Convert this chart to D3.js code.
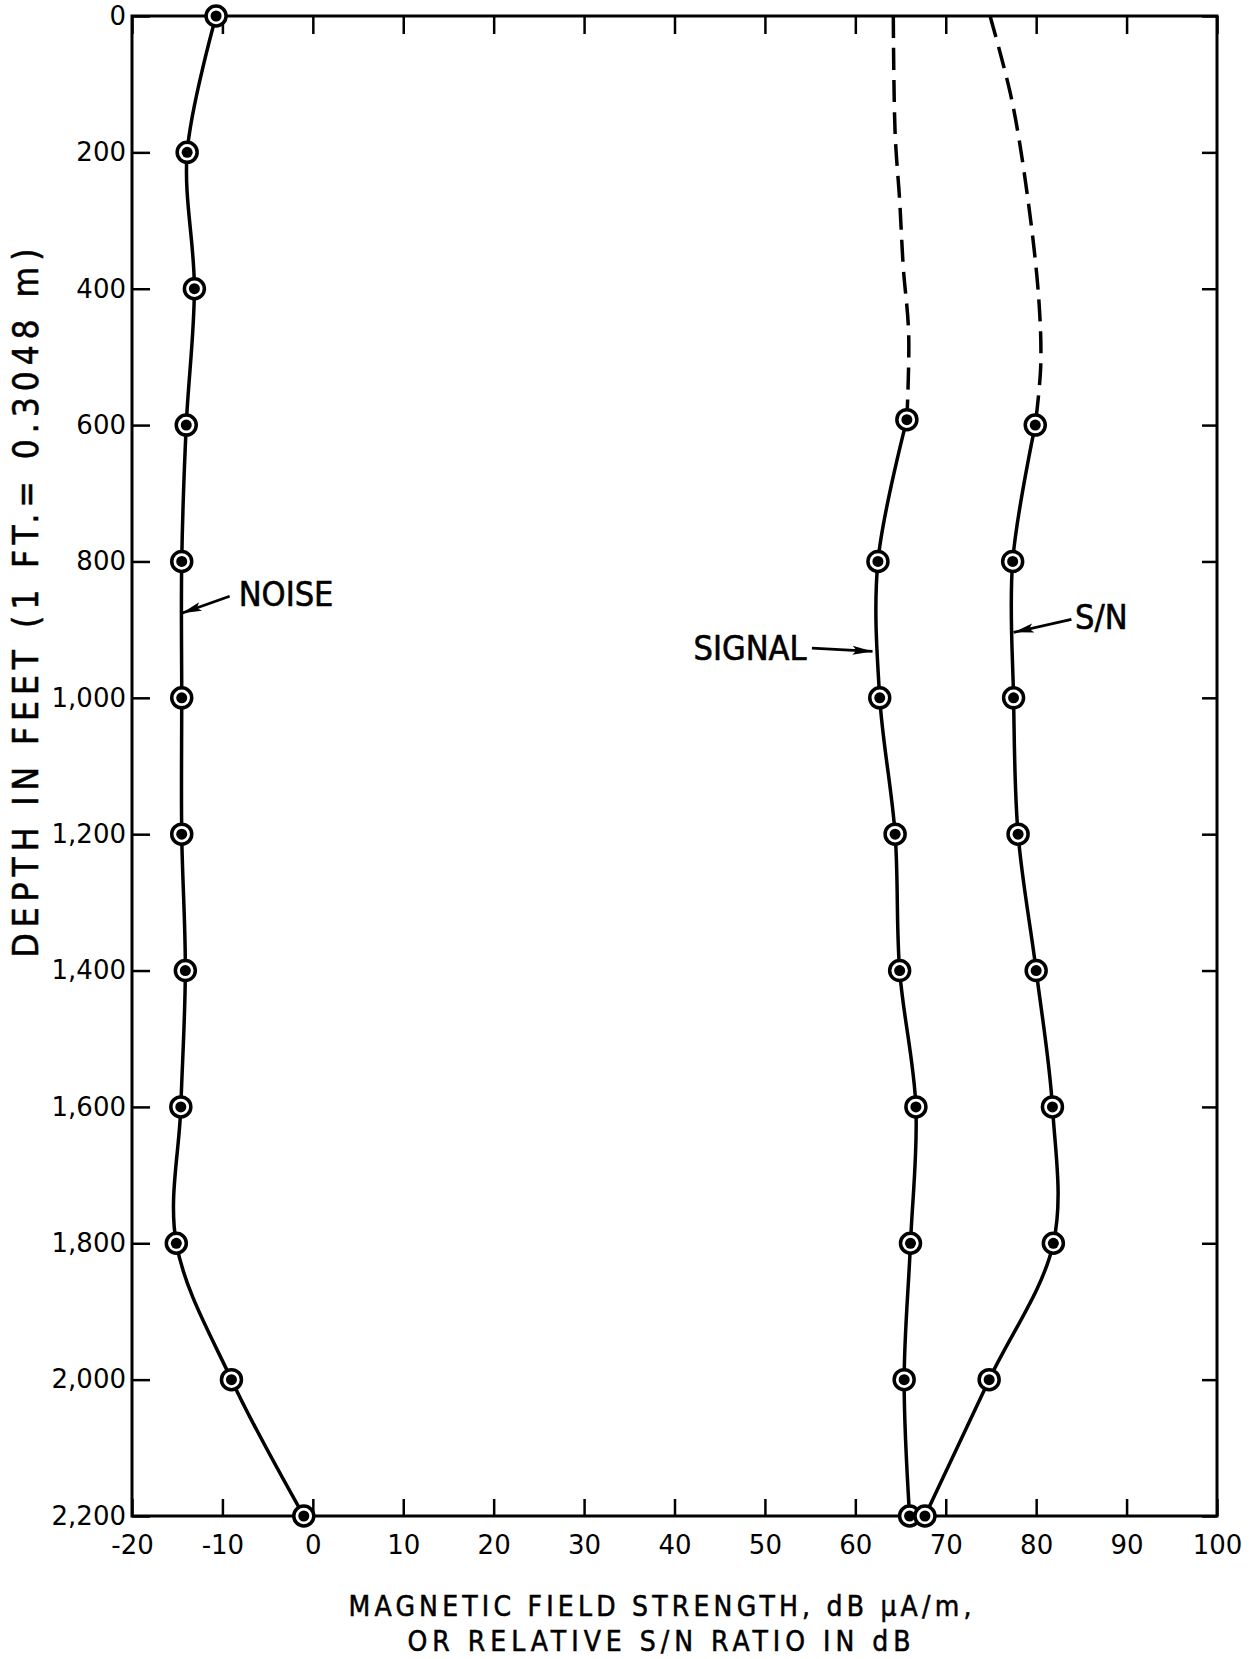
<!DOCTYPE html>
<html>
<head>
<meta charset="utf-8">
<script src="https://cdn.jsdelivr.net/npm/d3@7"></script>
<style>
    body { margin: 0; background: #fff; }
    svg text { fill: #000; }
    .tick-label { font-family: "DejaVu Sans", sans-serif; font-size: 26px; }
    .title { font-family: "DejaVu Sans Condensed", "DejaVu Sans", sans-serif; }
</style>
</head>
<body>
<div id="chart"></div>
<script>
// readings taken off the depth profile (depth in feet, values in dB)
let noiseDepth = [0, 200, 400, 600, 800, 1000, 1200, 1400, 1600, 1800, 2000, 2200];
let noiseValues = [-10.7, -13.9, -13.1, -14.0, -14.5, -14.5, -14.5, -14.1, -14.6, -15.1, -9.0, -1.0];

let signalDepth = [592, 800, 1000, 1200, 1400, 1600, 1800, 2000, 2200];
let signalValues = [65.7, 62.5, 62.7, 64.4, 64.9, 66.7, 66.1, 65.4, 66.0];
// extrapolated part above 600 ft (dashed, no readings)
let signalDashDepth = [0, 172, 270, 368, 466, 592];
let signalDashValues = [64.2, 64.4, 64.9, 65.3, 65.9, 65.7];

let snDepth = [600, 800, 1000, 1200, 1400, 1600, 1800, 2000, 2200];
let snValues = [79.9, 77.4, 77.5, 78.0, 80.0, 81.8, 81.9, 74.8, 67.7];
let snDashDepth = [0, 123, 270, 417, 514, 600];
let snDashValues = [74.9, 77.3, 79.1, 80.3, 80.5, 79.9];

let xTicks = [-20, -10, 0, 10, 20, 30, 40, 50, 60, 70, 80, 90, 100];
let xTickLabels = ["-20", "-10", "0", "10", "20", "30", "40", "50", "60", "70", "80", "90", "100"];
let yTicks = [0, 200, 400, 600, 800, 1000, 1200, 1400, 1600, 1800, 2000, 2200];
let yTickLabels = ["0", "200", "400", "600", "800", "1,000", "1,200", "1,400", "1,600", "1,800", "2,000", "2,200"];

// curve labels: [text, text value, text depth, arrow tail value, tail depth, tip value, tip depth]
let curveLabels = [
    ["NOISE", -8.2, 865, -9.2, 851, -14.5, 876],
    ["SIGNAL", 54.6, 944, 55.2, 927, 61.9, 932],
    ["S/N", 84.3, 899, 83.9, 885, 77.5, 904]
];

let width = 1250, height = 1659;
let margin = { top: 16, right: 33, bottom: 143, left: 132 };

let svg = d3.select("#chart").append("svg")
    .attr("width", width)
    .attr("height", height);

svg.append("rect").attr("width", width).attr("height", height).attr("fill", "#fff");

let x = d3.scaleLinear().domain([-20, 100]).range([margin.left, width - margin.right]);
let y = d3.scaleLinear().domain([0, 2200]).range([margin.top, height - margin.bottom]);

// arrow head
svg.append("defs").append("marker")
    .attr("id", "arrow")
    .attr("viewBox", "0 0 20 10")
    .attr("refX", 20).attr("refY", 5)
    .attr("markerWidth", 20).attr("markerHeight", 10)
    .attr("markerUnits", "userSpaceOnUse")
    .attr("orient", "auto")
    .append("path")
    .attr("d", "M0,0.5 L20,5 L0,9.5 L4,5 Z")
    .attr("fill", "#000");

// axes - ticks pointing inward on all four sides
let yLeft = d3.axisLeft(y).tickValues(yTicks)
    .tickFormat((d, i) => yTickLabels[i])
    .tickSizeInner(-18).tickSizeOuter(0).tickPadding(6);
let yRight = d3.axisRight(y).tickValues(yTicks).tickFormat("")
    .tickSizeInner(-15).tickSizeOuter(0);
let xBottom = d3.axisBottom(x).tickValues(xTicks)
    .tickFormat((d, i) => xTickLabels[i])
    .tickSizeInner(-17).tickSizeOuter(0).tickPadding(20);
let xTop = d3.axisTop(x).tickValues(xTicks).tickFormat("")
    .tickSizeInner(-18).tickSizeOuter(0);

function drawAxis(axis, tx, ty) {
    let g = svg.append("g")
        .attr("transform", "translate(" + tx + "," + ty + ")")
        .call(axis);
    g.select(".domain").remove();
    g.selectAll(".tick line").attr("stroke", "#000").attr("stroke-width", 2.5);
    g.selectAll(".tick text").attr("class", "tick-label").attr("font-size", null).attr("font-family", null);
    g.attr("font-size", null).attr("font-family", null);
    return g;
}
drawAxis(yLeft, margin.left, 0);
drawAxis(yRight, width - margin.right, 0);
drawAxis(xBottom, 0, height - margin.bottom);
drawAxis(xTop, 0, margin.top);

// frame
svg.append("rect")
    .attr("x", x(-20)).attr("y", y(0))
    .attr("width", x(100) - x(-20)).attr("height", y(2200) - y(0))
    .attr("fill", "none").attr("stroke", "#000").attr("stroke-width", 3);

// curves
let line = d3.line()
    .x(d => x(d[1]))
    .y(d => y(d[0]))
    .curve(d3.curveCatmullRom.alpha(0.5));

function pairs(depths, vals) {
    return depths.map((d, i) => [d, vals[i]]);
}

let solid = [pairs(noiseDepth, noiseValues), pairs(signalDepth, signalValues), pairs(snDepth, snValues)];
let dashed = [pairs(signalDashDepth, signalDashValues), pairs(snDashDepth, snDashValues)];

svg.selectAll(".dash-line")
    .data(dashed)
    .enter().append("path")
    .attr("class", "dash-line")
    .attr("d", line)
    .attr("fill", "none")
    .attr("stroke", "#000")
    .attr("stroke-width", 3.5)
    .attr("stroke-dasharray", "22,10");

svg.selectAll(".solid-line")
    .data(solid)
    .enter().append("path")
    .attr("class", "solid-line")
    .attr("d", line)
    .attr("fill", "none")
    .attr("stroke", "#000")
    .attr("stroke-width", 3.5);

// bull's-eye markers
let points = solid.flat();
let pts = svg.selectAll(".pt")
    .data(points)
    .enter().append("g")
    .attr("class", "pt")
    .attr("transform", d => "translate(" + x(d[1]) + "," + y(d[0]) + ")");
pts.append("circle").attr("r", 10).attr("fill", "#fff").attr("stroke", "#000").attr("stroke-width", 3.5);
pts.append("circle").attr("r", 5.5).attr("fill", "#000");

// curve labels with arrows
curveLabels.forEach(function (c) {
    svg.append("line")
        .attr("x1", x(c[3])).attr("y1", y(c[4]))
        .attr("x2", x(c[5])).attr("y2", y(c[6]))
        .attr("stroke", "#000").attr("stroke-width", 2.8)
        .attr("marker-end", "url(#arrow)");
    svg.append("text")
        .attr("class", "title")
        .attr("x", x(c[1])).attr("y", y(c[2]))
        .attr("font-size", 34)
        .attr("stroke", "#000").attr("stroke-width", 0.6)
        .attr("text-anchor", c[0] === "SIGNAL" ? "end" : "start")
        .text(c[0]);
});

// axis titles
svg.append("text")
    .attr("class", "title")
    .attr("transform", "translate(38,603) rotate(-90)")
    .attr("text-anchor", "middle")
    .attr("font-size", 35)
    .attr("stroke", "#000").attr("stroke-width", 0.5)
    .attr("textLength", 709)
    .text("DEPTH IN FEET (1 FT.= 0.3048 m)");

svg.append("text")
    .attr("class", "title")
    .attr("x", 660).attr("y", 1616)
    .attr("text-anchor", "middle")
    .attr("font-size", 28)
    .attr("stroke", "#000").attr("stroke-width", 0.5)
    .attr("textLength", 623)
    .text("MAGNETIC FIELD STRENGTH, dB μA/m,");

svg.append("text")
    .attr("class", "title")
    .attr("x", 659).attr("y", 1651)
    .attr("text-anchor", "middle")
    .attr("font-size", 28)
    .attr("stroke", "#000").attr("stroke-width", 0.5)
    .attr("textLength", 503)
    .text("OR RELATIVE S/N RATIO IN dB");
</script>
</body>
</html>
